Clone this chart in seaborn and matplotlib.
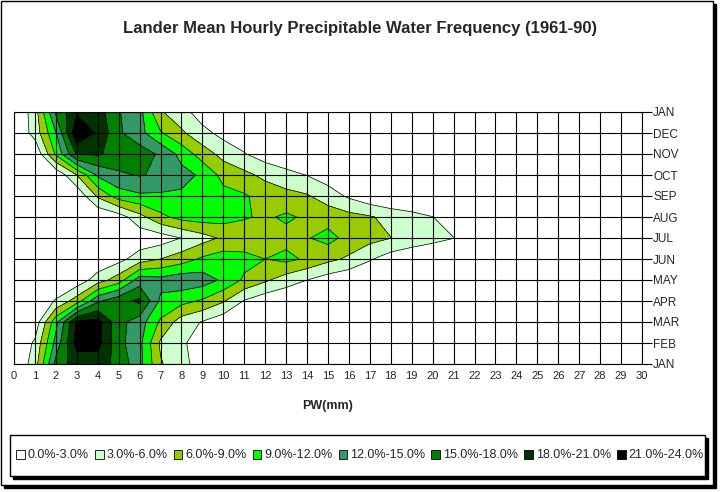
import numpy as np
import matplotlib
matplotlib.use("Agg")
import matplotlib.pyplot as plt
from matplotlib.patches import Patch, Rectangle
import seaborn as sns

months = ["JAN", "FEB", "MAR", "APR", "MAY", "JUN", "JUL",
          "AUG", "SEP", "OCT", "NOV", "DEC", "JAN"]
pw_mm = list(range(31))

# frequency (%) at PW = 0, 1, 2 ... mm (0 beyond the list)
jan_start = [0, 4.5, 16, 19.5, 19.5, 17, 13, 6.3, 4, 1.5, 0.5]
feb = [0, 3.5, 13, 22, 22, 16, 12.8, 5.5, 3.5, 1.5, 0.5]
mar = [0, 1, 11, 21.5, 22, 16, 13.5, 8.5, 4.5, 2.8, 1, 0.3]
apr = [0, 0.5, 3.3, 7.5, 14.5, 17, 18.6, 11.4, 10, 8.6, 6.3, 2.8, 1, 0.3]
may = [0, 0, 0.3, 1, 4.5, 7.5, 13.5, 13, 14, 13.5, 11.5, 8.5, 6.5, 4.5, 3, 1.5, 0.5]
jun = [0, 0, 0, 0, 0.5, 2, 4.5, 6, 7.5, 9.5, 10.5, 10, 9, 9.8, 8.5, 6.8, 5.5, 3.3, 1.5, 0.5]
jul = [0, 0, 0, 0, 0, 0.5, 1, 1.5, 3.05, 4.8, 6.5, 7, 7.5, 8, 8.8, 10, 8, 7, 6.05, 5, 4, 3.05, 1]
aug = [0, 0, 0, 0, 0, 1.5, 5, 8.3, 10, 10.5, 10.2, 9.3, 8.5, 9.5, 8.5, 7.8, 7, 6.3, 5, 4, 3.05, 1.5, 0.3]
sep = [0, 0, 0, 0.5, 6.5, 10.5, 11.5, 11.5, 11.5, 11, 10, 9.3, 8, 7, 6.3, 4.5, 2.5, 0.8]
oct_ = [0, 0, 0.5, 6, 12.5, 14.5, 15.2, 14.5, 13, 11.5, 8, 6.8, 5.2, 4, 2.9, 1.5, 0.5]
nov = [0, 0.3, 9.5, 18.3, 18.3, 17, 16.5, 14.5, 11, 7.5, 5, 3.2, 1.5, 0.5]
dec = [0, 4.2, 11.8, 23.5, 20.5, 15.5, 13, 9.3, 6.5, 4, 2, 1]
jan_end = [0, 4.5, 15.5, 20.6, 19.5, 15.2, 13, 6.3, 4.2, 1.4, 0.5]

levels = [0, 3, 6, 9, 12, 15, 18, 21, 24]
band_labels = ["0.0%-3.0%", "3.0%-6.0%", "6.0%-9.0%", "9.0%-12.0%",
               "12.0%-15.0%", "15.0%-18.0%", "18.0%-21.0%", "21.0%-24.0%"]
band_colors = ["#FFFFFF", "#CCFFCC", "#99CC00", "#00FF00",
               "#339966", "#008000", "#003300", "#000000"]

rows = [jan_start, feb, mar, apr, may, jun, jul, aug, sep, oct_, nov, dec, jan_end]
freq = np.array([r + [0] * (len(pw_mm) - len(r)) for r in rows], dtype=float)
month_pos = list(range(len(months)))

sns.set_theme(style="white")
plt.rcParams["font.family"] = ["Liberation Sans", "DejaVu Sans"]

fig = plt.figure(figsize=(7.2, 4.92), dpi=100)
W, H = 720, 492


def boxed(x0, y0, x1, y1, off, z):
    # box given in pixels from the top-left, with a solid black drop shadow
    fig.patches.append(Rectangle(((x0 + off) / W, 1 - (y1 + off) / H), (x1 - x0) / W,
                                 (y1 - y0) / H, transform=fig.transFigure,
                                 facecolor="black", edgecolor="black", zorder=z - 0.5))
    fig.patches.append(Rectangle((x0 / W, 1 - y1 / H), (x1 - x0) / W, (y1 - y0) / H,
                                 transform=fig.transFigure, facecolor="white",
                                 edgecolor="black", lw=1, zorder=z))


boxed(1, 1, 713, 485, 3, -1)
boxed(10, 435, 705, 476, 3, 1)

ax = fig.add_axes([14 / W, 1 - 364 / H, 628 / W, 252 / H])
ax.patch.set_alpha(0)
ax.contourf(pw_mm, month_pos, freq, levels=levels, colors=band_colors)
ax.contour(pw_mm, month_pos, freq, levels=levels[1:-1], colors="black", linewidths=0.5)

ax.set_xlim(0, 30)
ax.set_ylim(0, 12)
ax.set_xticks(pw_mm)
ax.set_yticks(month_pos)
ax.set_yticklabels(months)
ax.yaxis.tick_right()
ax.grid(True, color="black", lw=0.8)
ax.set_axisbelow(False)
for s in ax.spines.values():
    s.set_visible(True)
    s.set_color("black")
    s.set_linewidth(0.8)
ax.tick_params(axis="x", labelsize=8, length=2, pad=3, color="black")
ax.tick_params(axis="y", labelsize=8.5, length=7, pad=1, color="black", width=0.8)

fig.text(360 / W, 1 - 28 / H, "Lander Mean Hourly Precipitable Water Frequency (1961-90)",
         ha="center", va="center", fontsize=12, fontweight="bold")
fig.text(328 / W, 1 - 406 / H, "PW(mm)", ha="center", va="center",
         fontsize=9, fontweight="bold")

handles = [Patch(facecolor=c, edgecolor="black", lw=0.6) for c in band_colors]
leg = fig.legend(handles, band_labels, loc="center",
                 bbox_to_anchor=(16 / W, 1 - 476 / H, 688 / W, 41 / H), mode="expand",
                 ncol=8, fontsize=9, frameon=False, borderaxespad=0, borderpad=0,
                 handlelength=0.7, handleheight=0.7, handletextpad=0.25,
                 columnspacing=0.5)
leg.set_zorder(3)

fig.savefig("out.png", dpi=100)
